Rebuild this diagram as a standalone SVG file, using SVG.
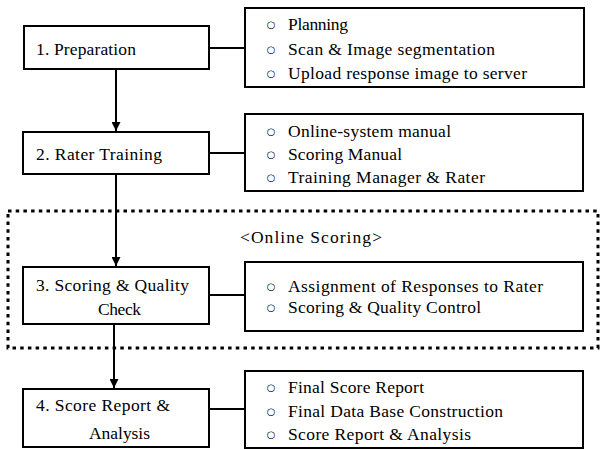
<svg xmlns="http://www.w3.org/2000/svg" width="600" height="450" viewBox="0 0 600 450" font-family="'Liberation Serif', 'DejaVu Serif', serif">
<defs>
<marker id="ah" viewBox="0 0 10 10" refX="10" refY="5" markerWidth="4.5" markerHeight="4.5" orient="auto" markerUnits="strokeWidth">
<path d="M0,0 L10,5 L0,10 Z" fill="#000"/>
</marker>
<style>
.box{fill:#fff;stroke:#000;stroke-width:2}
.t{font-size:17.5px;fill:#000}
.b{font-size:10px;font-family:"DejaVu Sans",sans-serif}
.c{stroke:#000;stroke-width:2;fill:none}
.dot{fill:none;stroke:#000;stroke-width:3;stroke-dasharray:3.5 4.2}
</style>
</defs>
<rect width="600" height="450" fill="#fff"/>
<g id="online-scoring">
<rect class="dot" x="8" y="211" width="590" height="137"/>
<text class="t" x="240" y="243" textLength="142">&lt;Online Scoring&gt;</text>
</g>
<g id="connectors">
<line class="c" x1="116" y1="69" x2="116" y2="131" marker-end="url(#ah)"/>
<line class="c" x1="116" y1="174" x2="116" y2="266" marker-end="url(#ah)"/>
<line class="c" x1="114" y1="324" x2="114" y2="388" marker-end="url(#ah)"/>
<line class="c" x1="209" y1="48" x2="245" y2="48"/>
<line class="c" x1="209" y1="153" x2="245" y2="153"/>
<line class="c" x1="209" y1="295" x2="245" y2="295"/>
<line class="c" x1="209" y1="409" x2="245" y2="409"/>
</g>
<g id="step1">
<rect class="box" x="24" y="26" width="185" height="43"/>
<text class="t" x="36" y="55" textLength="100">1. Preparation</text>
</g>
<g id="detail1">
<rect class="box" x="245" y="8" width="339" height="79"/>
<text class="t"><tspan class="b" x="271" y="27.5" text-anchor="middle">○</tspan><tspan x="288" y="30" textLength="60">Planning</tspan></text>
<text class="t"><tspan class="b" x="271" y="52.5" text-anchor="middle">○</tspan><tspan x="288" y="55" textLength="207">Scan &amp; Image segmentation</tspan></text>
<text class="t"><tspan class="b" x="271" y="76.5" text-anchor="middle">○</tspan><tspan x="288" y="79" textLength="239">Upload response image to server</tspan></text>
</g>
<g id="step2">
<rect class="box" x="23" y="132" width="186" height="42"/>
<text class="t" x="36" y="160" textLength="126">2. Rater Training</text>
</g>
<g id="detail2">
<rect class="box" x="245" y="114" width="338" height="77"/>
<text class="t"><tspan class="b" x="271" y="134.5" text-anchor="middle">○</tspan><tspan x="288" y="137" textLength="163">Online-system manual</tspan></text>
<text class="t"><tspan class="b" x="271" y="157.5" text-anchor="middle">○</tspan><tspan x="288" y="160" textLength="114">Scoring Manual</tspan></text>
<text class="t"><tspan class="b" x="271" y="180.5" text-anchor="middle">○</tspan><tspan x="288" y="183" textLength="197">Training Manager &amp; Rater</tspan></text>
</g>
<g id="step3">
<rect class="box" x="23" y="267" width="186" height="57"/>
<text class="t" x="36" y="291" textLength="153">3. Scoring &amp; Quality</text>
<text class="t" x="98" y="315" textLength="43">Check</text>
</g>
<g id="detail3">
<rect class="box" x="245" y="262" width="338" height="69"/>
<text class="t"><tspan class="b" x="271" y="289.5" text-anchor="middle">○</tspan><tspan x="288" y="292" textLength="255">Assignment of Responses to Rater</tspan></text>
<text class="t"><tspan class="b" x="271" y="310.5" text-anchor="middle">○</tspan><tspan x="288" y="313" textLength="193">Scoring &amp; Quality Control</tspan></text>
</g>
<g id="step4">
<rect class="box" x="23" y="389" width="186" height="58"/>
<text class="t" x="36" y="411" textLength="134">4. Score Report &amp;</text>
<text class="t" x="89" y="439" textLength="61">Analysis</text>
</g>
<g id="detail4">
<rect class="box" x="245" y="371" width="338" height="77"/>
<text class="t"><tspan class="b" x="271" y="390.5" text-anchor="middle">○</tspan><tspan x="288" y="393" textLength="136">Final Score Report</tspan></text>
<text class="t"><tspan class="b" x="271" y="414.5" text-anchor="middle">○</tspan><tspan x="288" y="417" textLength="215">Final Data Base Construction</tspan></text>
<text class="t"><tspan class="b" x="271" y="437.5" text-anchor="middle">○</tspan><tspan x="288" y="440" textLength="183">Score Report &amp; Analysis</tspan></text>
</g>
</svg>
